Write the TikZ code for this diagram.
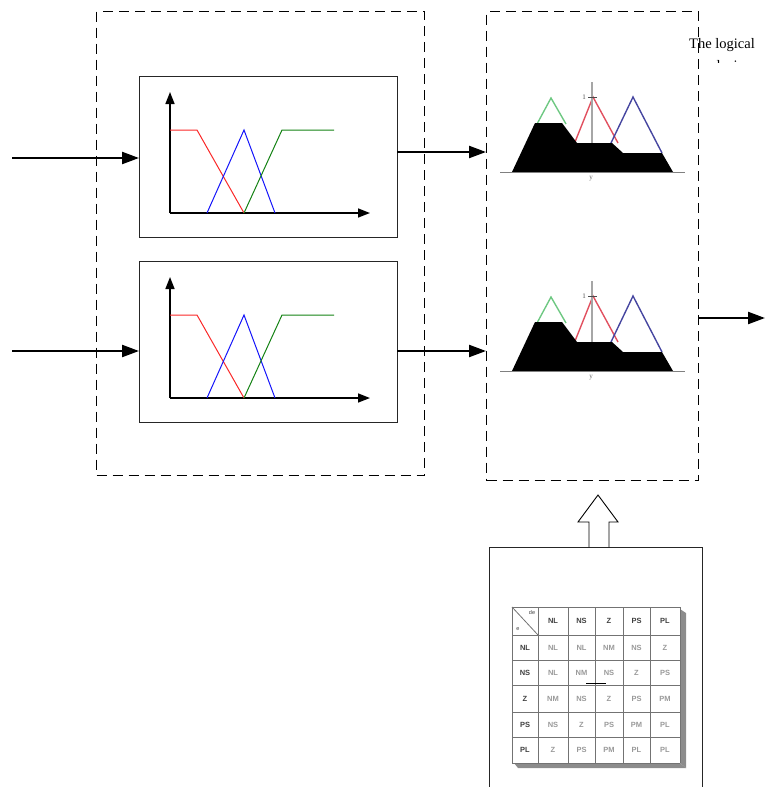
\documentclass[tikz,border=0pt]{standalone}
\usepackage{fontspec}
\setmainfont{Liberation Serif}
\setsansfont{Liberation Sans}
\usetikzlibrary{arrows.meta}
\definecolor{mfred}{RGB}{250,40,40}
\definecolor{mfblue}{RGB}{20,20,250}
\definecolor{mfgreen}{RGB}{20,130,20}
\definecolor{trgreen}{RGB}{110,200,130}
\definecolor{trred}{RGB}{225,80,95}
\definecolor{trblue}{RGB}{70,70,160}
\begin{document}
\begin{tikzpicture}[x=1pt,y=-1pt,
 dashbox/.style={draw, dash pattern=on 10pt off 6pt, line width=1.2pt, anchor=north west, inner sep=0pt},
 mfbox/.style={draw=black!85, line width=1.1pt, anchor=north west, minimum width=258pt, minimum height=161pt, inner sep=0pt},
 bigarrow/.style={line width=2.3pt, -{Triangle[length=17pt,width=12pt]}},
 axisarrow/.style={line width=1.6pt, -{Triangle[length=12pt,width=9pt]}},
 mfline/.style={line width=1pt},
 trline/.style={line width=1.4pt},
 cellhead/.style={font=\sffamily\bfseries\fontsize{7.5}{8}\selectfont, text=black!75, inner sep=0pt},
 cellbody/.style={font=\sffamily\bfseries\fontsize{7.5}{8}\selectfont, text=black!40, inner sep=0pt},
 gridline/.style={draw=black!55, line width=0.8pt}
]
\useasboundingbox (0,0) rectangle (765,787);

% dashed frames
\node[dashbox, minimum width=328pt, minimum height=464pt] (fuzz) at (96,11) {};
\node[dashbox, minimum width=212pt, minimum height=469pt] (infer) at (486,11) {};

% membership function boxes
\foreach \dy/\i/\yin/\yout in {0/1/158/152, 185/2/351/351}{
  \node[mfbox] (mf\i) at (139,{76+\dy}) {};
  \coordinate (in\i) at (12,\yin);
  \coordinate (out\i) at (397,\yout);
  \draw[bigarrow] (in\i) -- (in\i -| mf\i.west);
  \draw[bigarrow] (out\i) -- (out\i -| infer.west);
  \draw[axisarrow] (170,{213+\dy}) -- (170,{92+\dy});
  \draw[axisarrow] (170,{213+\dy}) -- (370,{213+\dy});
  \draw[mfline, mfred] (170,{130+\dy}) -- (197,{130+\dy}) -- (244,{213+\dy});
  \draw[mfline, mfblue] (207,{213+\dy}) -- (244,{130+\dy}) -- (275,{213+\dy});
  \draw[mfline, mfgreen] (244,{213+\dy}) -- (282,{130+\dy}) -- (334,{130+\dy});
}

% inference triangles
\foreach \dy in {0,199}{
  \draw[trline, trgreen] (537,{124+\dy}) -- (551,{98+\dy}) -- (566,{124+\dy});
  \draw[trline, trred] (575,{142+\dy}) -- (593,{97+\dy}) -- (618,{143+\dy});
  \draw[trline, trblue] (611,{143+\dy}) -- (633,{97+\dy}) -- (662,{153+\dy});
  \draw[line width=1.2pt, black!35] (592,{82+\dy}) -- (592,{172+\dy});
  \fill[black] (512,{172+\dy}) -- (535,{123+\dy}) -- (562,{123+\dy}) -- (577,{143+\dy}) -- (612,{143+\dy}) -- (623,{153+\dy}) -- (662,{153+\dy}) -- (673,{172+\dy}) -- cycle;
  \draw[line width=0.9pt, black!50] (500,{172+\dy}) -- (685,{172+\dy});
  \draw[line width=0.9pt, black!70] (588,{97+\dy}) -- (597,{97+\dy});
  \node[font=\fontsize{7}{7}\selectfont, text=black!70, inner sep=0pt] (one\dy) at (584,{97+\dy}) {1};
  \node[font=\fontsize{7}{7}\selectfont, text=black!60, inner sep=0pt] (yl\dy) at (591,{179+\dy}) {y};
}

% final output arrow
\coordinate (fout) at (765,318);
\draw[bigarrow] (fout -| infer.east) -- (fout);

% label at top right
\node[anchor=base west, inner sep=0pt, font=\fontsize{14.5}{17}\selectfont] (concl) at (689,48.5) {The logical};
\begin{scope}
  \clip (680,58) rectangle (765,62.5);
  \node[anchor=base west, inner sep=0pt, font=\fontsize{14.5}{17}\selectfont] (concl2) at (689,70) {conclusions};
\end{scope}

% rule base box
\node[draw=black!85, line width=1.1pt, anchor=north west, minimum width=213pt, minimum height=260pt, inner sep=0pt] (rules) at (489,547) {};
% hollow arrow
\draw[line width=0.9pt] (rules.north -| 589,0) -- (589,522) -- (578,522) -- (598,495) -- (618,522) -- (609,522) -- (rules.north -| 609,0);

% rule table shadow
\fill[black!45] (680,609) -- (686,613) -- (686,768) -- (680,763) -- cycle;
\fill[black!45] (514,763) -- (680,763) -- (686,768) -- (518,768) -- cycle;
% rule table grid
\foreach \x in {512,538,568,595,623,650,680} \draw[gridline] (\x,607) -- (\x,763);
\foreach \y in {607,635,660,685,712,737,763} \draw[gridline] (512,\y) -- (680,\y);
\draw[gridline] (512,607) -- (538,635);
\node[cellhead, font=\sffamily\fontsize{5.5}{6}\selectfont] (ce) at (518,629) {e};
\node[cellhead, font=\sffamily\fontsize{5.5}{6}\selectfont] (cde) at (532,613) {de};

\foreach \t [count=\c] in {NL,NS,Z,PS,PL}{
  \pgfmathsetmacro{\cx}{{525,553,581.5,609,636.5,665}[\c]}
  \pgfmathsetmacro{\ry}{{621,647.5,672.5,698.5,724.5,750}[\c]}
  \node[cellhead] (h\c) at (\cx,621) {\t};
  \node[cellhead] (r\c) at (525,\ry) {\t};
}
\foreach \row [count=\r] in {{NL,NL,NM,NS,Z},{NL,NM,NS,Z,PS},{NM,NS,Z,PS,PM},{NS,Z,PS,PM,PL},{Z,PS,PM,PL,PL}}{
  \foreach \t [count=\c] in \row {
    \pgfmathsetmacro{\cx}{{525,553,581.5,609,636.5,665}[\c]}
    \pgfmathsetmacro{\ry}{{621,647.5,672.5,698.5,724.5,750}[\r]}
    \node[cellbody] (b\r\c) at (\cx,\ry) {\t};
  }
}
\draw[line width=0.9pt] (586,683) -- (606,683);

\end{tikzpicture}
\end{document}
